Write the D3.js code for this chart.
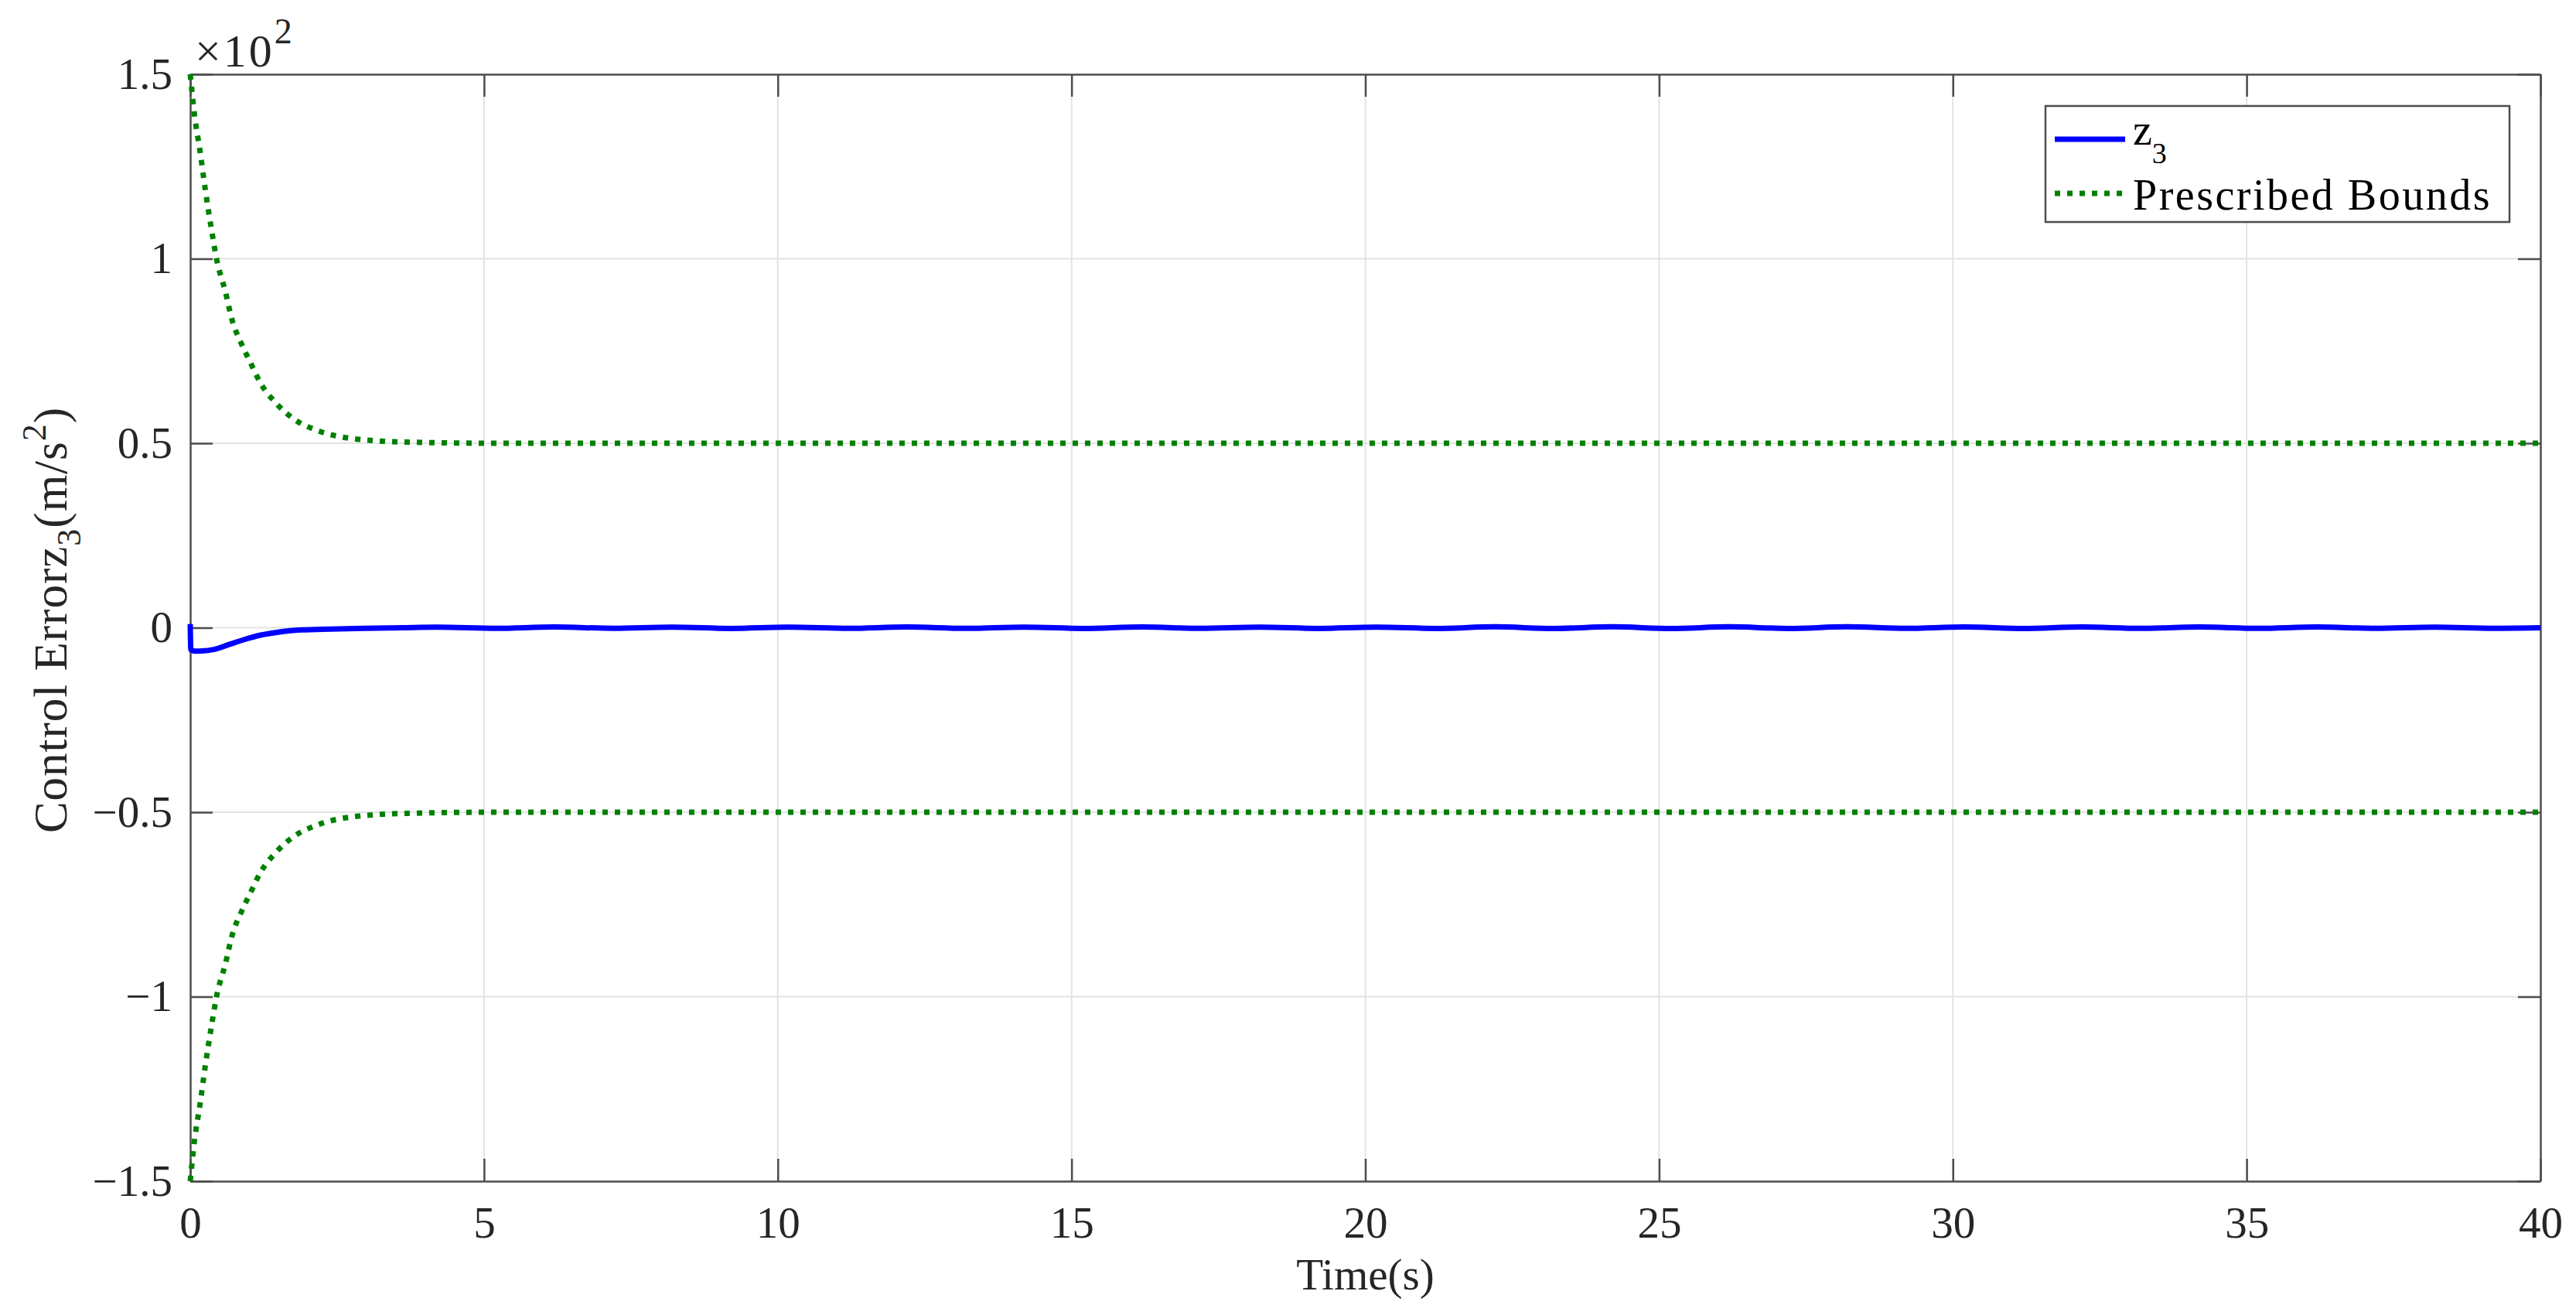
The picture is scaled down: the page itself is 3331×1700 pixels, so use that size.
<!DOCTYPE html>
<html>
<head>
<meta charset="utf-8">
<script src="https://cdn.jsdelivr.net/npm/d3@7"></script>
<style>
  body { margin: 0; background: #fff; }
  text { font-family: "Liberation Serif", "Times New Roman", serif; }
</style>
</head>
<body>
<div id="chart"></div>
<script>
const width = 3331, height = 1700;
const margin = { left: 246, right: 3331 - 3285, top: 96, bottom: 1700 - 1527 };

// data in real units (axis shows x10^2)
const xTicks = [0, 5, 10, 15, 20, 25, 30, 35, 40];
const yTicks = [-150, -100, -50, 0, 50, 100, 150];

const boundTime = [0, 0.07, 0.17, 0.26, 0.37, 0.45, 0.6, 0.71, 0.87, 1.02, 1.2, 1.47, 1.77, 2.19, 2.79, 3.7, 5.2, 40];
const upperBound = [150, 139.3, 128.8, 118.3, 107.1, 99.8, 91, 83.5, 77, 72, 66.2, 60.7, 56.5, 53.3, 51.2, 50.3, 50, 50];
const lowerBound = [-150, -139.3, -128.8, -118.3, -107.1, -99.8, -91, -83.5, -77, -72, -66.2, -60.7, -56.5, -53.3, -51.2, -50.3, -50, -50];

const z3Time = [0, 0.01, 0.08, 0.2, 0.4, 0.65, 0.9, 1.2, 1.5, 1.9, 2.4, 3.0, 3.6,
    4.2, 5.2, 6.2, 7.2, 8.2, 9.2, 10.2, 11.2, 12.2, 13.2, 14.2, 15.2, 16.2, 17.2, 18.2, 19.2,
    20.2, 21.2, 22.2, 23.2, 24.2, 25.2, 26.2, 27.2, 28.2, 29.2, 30.2, 31.2, 32.2, 33.2, 34.2,
    35.2, 36.2, 37.2, 38.2, 39.2, 40];
const z3 = [1.0, -6.0, -6.35, -6.3, -5.9, -4.6, -3.3, -2.0, -1.2, -0.6, -0.35, -0.15, 0,
    0.15, -0.15, 0.2, -0.15, 0.15, -0.2, 0.15, -0.15, 0.2, -0.15, 0.15, -0.2, 0.2, -0.15, 0.15, -0.2,
    0.15, -0.2, 0.25, -0.2, 0.25, -0.2, 0.25, -0.2, 0.25, -0.15, 0.2, -0.2, 0.2, -0.15, 0.2,
    -0.15, 0.2, -0.15, 0.15, -0.15, 0];

const axisColor = "#4d4d4d", textColor = "#262626", gridColor = "#e3e3e3";

const svg = d3.select("#chart").append("svg")
    .attr("width", width)
    .attr("height", height);

const x = d3.scaleLinear().domain([0, 40]).range([margin.left, width - margin.right]);
const y = d3.scaleLinear().domain([-150, 150]).range([height - margin.bottom, margin.top]);

// grid
svg.append("g").selectAll("line").data(xTicks.slice(1, -1)).enter().append("line")
    .attr("x1", d => x(d)).attr("x2", d => x(d))
    .attr("y1", y(-150)).attr("y2", y(150))
    .attr("stroke", gridColor).attr("stroke-width", 2);
svg.append("g").selectAll("line").data(yTicks.slice(1, -1)).enter().append("line")
    .attr("y1", d => y(d)).attr("y2", d => y(d))
    .attr("x1", x(0)).attr("x2", x(40))
    .attr("stroke", gridColor).attr("stroke-width", 2);

// axes (ticks inward, box on)
const fmtY = d => {
    const v = d / 100;
    return v < 0 ? "\u2212" + Math.abs(v) : String(v);
};
const tick = 29;
const xAxis = svg.append("g").attr("transform", "translate(0," + y(-150) + ")")
    .call(d3.axisBottom(x).tickValues(xTicks).tickSize(-tick).tickSizeOuter(0).tickPadding(33));
const yAxis = svg.append("g").attr("transform", "translate(" + x(0) + ",0)")
    .call(d3.axisLeft(y).tickValues(yTicks).tickFormat(fmtY).tickSize(-tick).tickSizeOuter(0).tickPadding(23));
const xTop = svg.append("g").attr("transform", "translate(0," + y(150) + ")")
    .call(d3.axisTop(x).tickValues(xTicks).tickSize(-tick).tickSizeOuter(0).tickFormat(""));
const yRight = svg.append("g").attr("transform", "translate(" + x(40) + ",0)")
    .call(d3.axisRight(y).tickValues(yTicks).tickSize(-tick).tickSizeOuter(0).tickFormat(""));

[xAxis, yAxis, xTop, yRight].forEach(g => {
    g.select(".domain").attr("stroke", axisColor).attr("stroke-width", 2.5);
    g.selectAll(".tick line").attr("stroke", axisColor).attr("stroke-width", 2.5);
    g.selectAll(".tick text").attr("fill", textColor).style("font-size", "57px")
        .style("font-family", "'Liberation Serif', serif");
});

// x10^2 multiplier
const mult = svg.append("text")
    .attr("x", 252).attr("y", 86)
    .attr("fill", textColor)
    .style("font-size", "60px")
    .style("letter-spacing", "3px");
mult.append("tspan").text("\u00d710");
mult.append("tspan").attr("dy", -30).style("font-size", "46px").text("2");

// axis labels
svg.append("text")
    .attr("x", x(20)).attr("y", 1667)
    .attr("text-anchor", "middle")
    .attr("fill", textColor)
    .style("font-size", "57px")
    .text("Time(s)");

const yl = svg.append("text")
    .attr("transform", "translate(86," + ((y(150) + y(-150)) / 2 - 10) + ") rotate(-90)")
    .attr("text-anchor", "middle")
    .attr("fill", textColor)
    .style("font-size", "61px")
    .style("letter-spacing", "1px");
yl.append("tspan").text("Control Error");
yl.append("tspan").text("z");
yl.append("tspan").attr("dy", 18).style("font-size", "44px").text("3");
yl.append("tspan").attr("dy", -18).text("(m/s");
yl.append("tspan").attr("dy", -27).style("font-size", "44px").text("2");
yl.append("tspan").attr("dy", 27).text(")");

// data lines
const boundUp = boundTime.map((t, i) => [t, upperBound[i]]);
const boundLo = boundTime.map((t, i) => [t, lowerBound[i]]);
const z3Data = z3Time.map((t, i) => [t, z3[i]]);

const line = d3.line().x(d => x(d[0])).y(d => y(d[1])).curve(d3.curveMonotoneX);

[boundUp, boundLo].forEach(data => {
    svg.append("path")
        .datum(data)
        .attr("d", line)
        .attr("fill", "none")
        .attr("stroke", "#008000")
        .attr("stroke-width", 7)
        .attr("stroke-dasharray", "7,9");
});

svg.append("path")
    .datum(z3Data)
    .attr("d", line)
    .attr("fill", "none")
    .attr("stroke", "#0000ff")
    .attr("stroke-width", 7)
    .attr("stroke-linejoin", "round");

// legend
const legend = svg.append("g");
legend.append("rect")
    .attr("x", 2645).attr("y", 137)
    .attr("width", 600).attr("height", 150)
    .attr("fill", "#fff")
    .attr("stroke", axisColor).attr("stroke-width", 2.5);
legend.append("line")
    .attr("x1", 2657).attr("x2", 2748).attr("y1", 180).attr("y2", 180)
    .attr("stroke", "#0000ff").attr("stroke-width", 7);
const lz = legend.append("text")
    .attr("x", 2758).attr("y", 187)
    .attr("fill", "#000")
    .style("font-size", "56px");
lz.append("tspan").text("z");
lz.append("tspan").attr("dy", 24).style("font-size", "38px").text("3");
legend.append("line")
    .attr("x1", 2657).attr("x2", 2748).attr("y1", 250).attr("y2", 250)
    .attr("stroke", "#008000").attr("stroke-width", 7)
    .attr("stroke-dasharray", "7,9");
legend.append("text")
    .attr("x", 2758).attr("y", 271)
    .attr("fill", "#000")
    .style("font-size", "56px")
    .style("letter-spacing", "2.5px")
    .text("Prescribed Bounds");
</script>
</body>
</html>
